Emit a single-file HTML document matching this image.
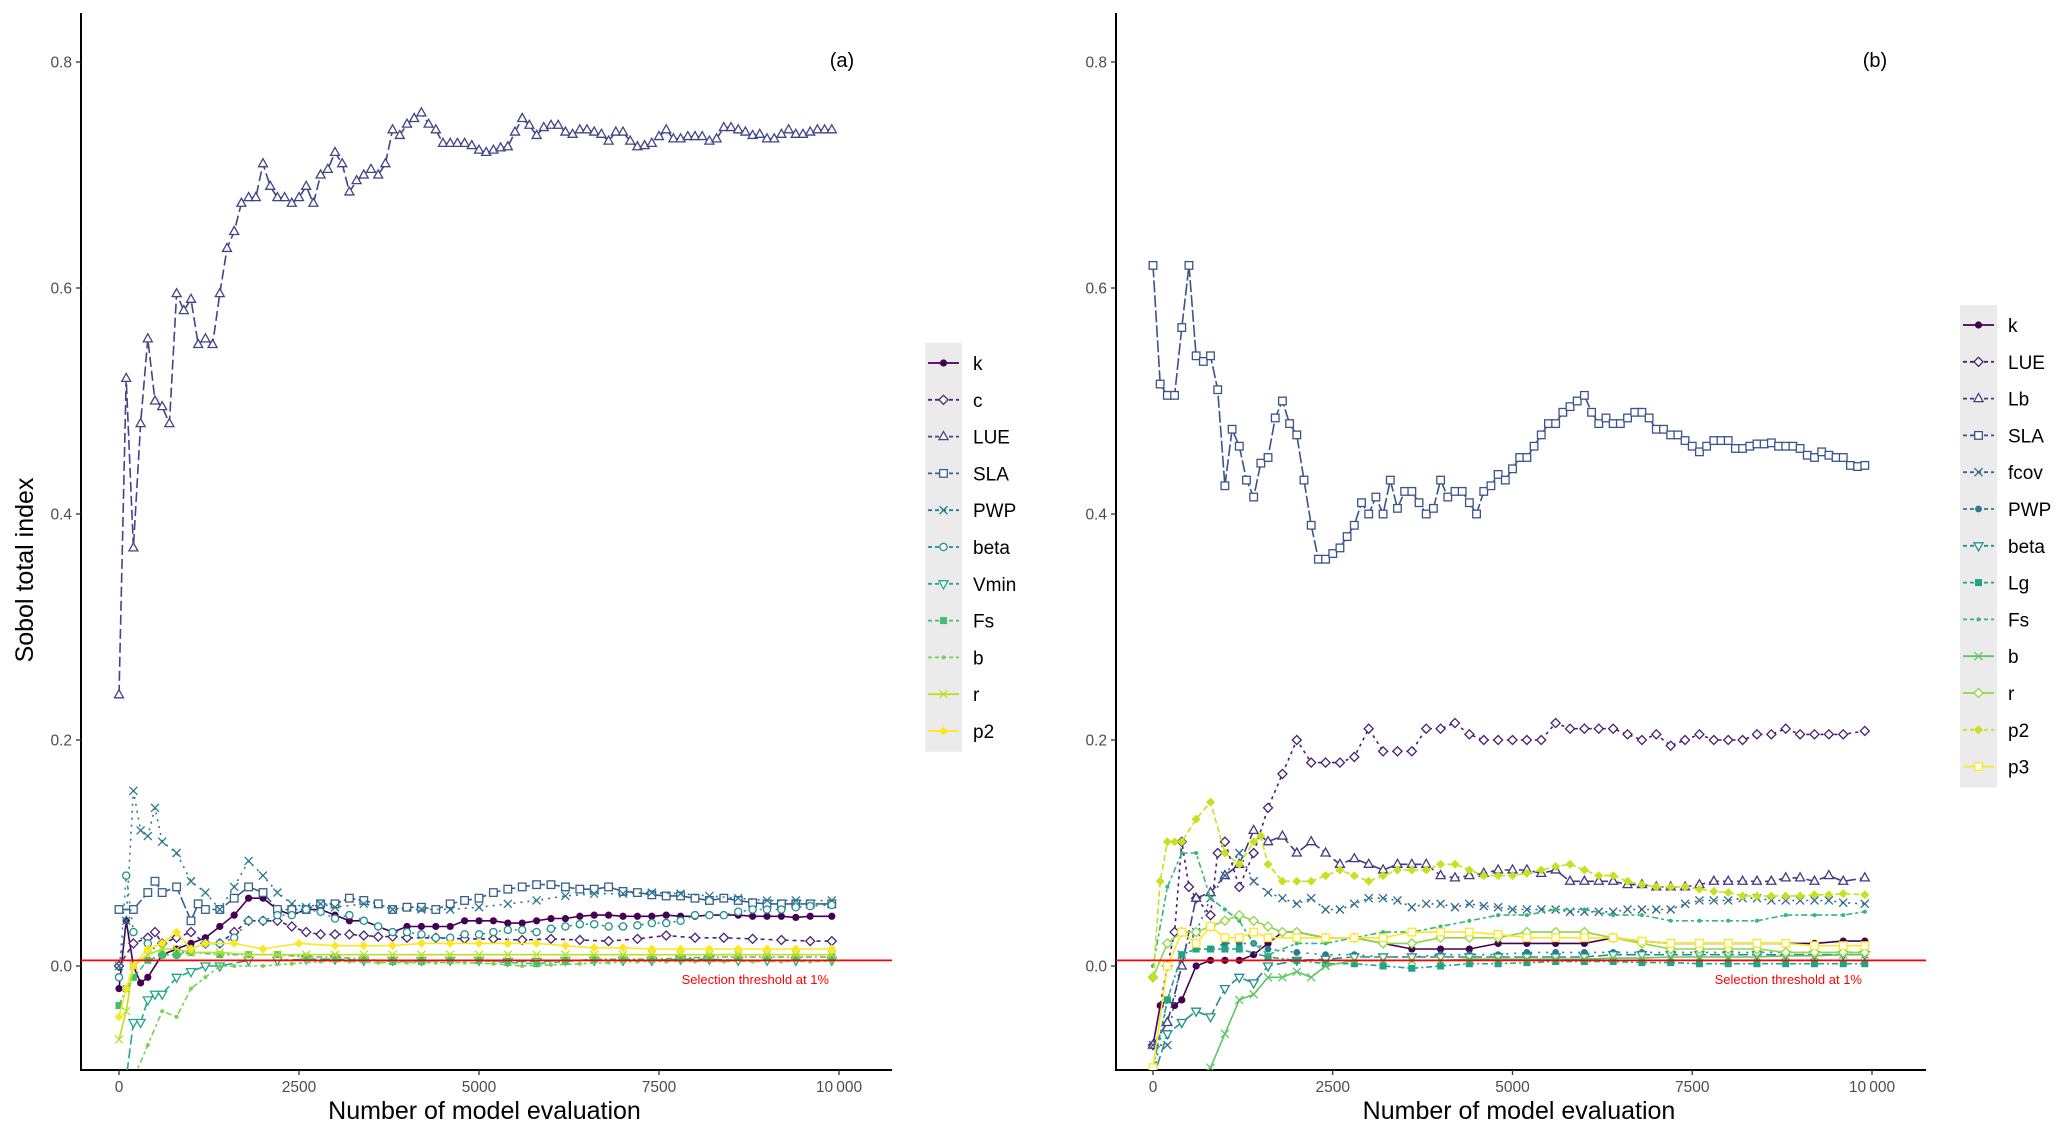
<!DOCTYPE html>
<html><head><meta charset="utf-8"><style>
html,body{margin:0;padding:0;background:#fff;width:2067px;height:1129px;overflow:hidden;}
svg{display:block;font-family:"Liberation Sans",Arial,sans-serif;}
</style></head><body>
<svg id="chart" width="2067" height="1129" viewBox="0 0 2067 1129" xmlns="http://www.w3.org/2000/svg">
<defs>
<clipPath id="clipA"><rect x="81" y="13" width="811" height="1057"/></clipPath>
<clipPath id="clipB"><rect x="1116" y="13" width="810" height="1057"/></clipPath>
</defs>
</svg>
<script>
// ---------- Data (x, Sobol total index) ----------
const xTicks=[0,2500,5000,7500,10000];
const xTickLabels=["0","2500","5000","7500","10\u2009000"];
const yTicks=[0,0.2,0.4,0.6,0.8];
const yTickLabels=["0.0","0.2","0.4","0.6","0.8"];
const threshold=0.005;

const aNames=["k","c","LUE","SLA","PWP","beta","Vmin","Fs","b","r","p2"];
const bNames=["k","LUE","Lb","SLA","fcov","PWP","beta","Lg","Fs","b","r","p2","p3"];

const a_k=[[0,-0.02],[100,0.04],[200,0.0],[300,-0.015],[400,-0.01],[600,0.01],[800,0.015],[1000,0.02],[1200,0.025],[1400,0.035],[1600,0.045],[1800,0.06],[2000,0.06],[2200,0.05],[2400,0.045],[2600,0.05],[2800,0.05],[3000,0.045],[3200,0.04],[3400,0.04],[3600,0.035],[3800,0.03],[4000,0.035],[4200,0.035],[4400,0.035],[4600,0.035],[4800,0.04],[5000,0.04],[5200,0.04],[5400,0.038],[5600,0.038],[5800,0.04],[6000,0.042],[6200,0.042],[6400,0.044],[6600,0.045],[6800,0.045],[7000,0.044],[7200,0.044],[7400,0.044],[7600,0.045],[7800,0.044],[8000,0.044],[8200,0.045],[8400,0.045],[8600,0.045],[8800,0.044],[9000,0.044],[9200,0.044],[9400,0.043],[9600,0.044],[9900,0.044]];
const a_c=[[0,0.0],[200,0.02],[400,0.025],[500,0.03],[600,0.02],[800,0.025],[1000,0.03],[1200,0.02],[1400,0.02],[1600,0.03],[1800,0.04],[2000,0.04],[2200,0.04],[2400,0.035],[2600,0.03],[2800,0.028],[3000,0.028],[3200,0.028],[3400,0.027],[3600,0.026],[3800,0.026],[4000,0.025],[4400,0.025],[4800,0.024],[5200,0.024],[5600,0.023],[6000,0.024],[6400,0.023],[6800,0.022],[7200,0.024],[7600,0.027],[8000,0.025],[8400,0.025],[8800,0.024],[9200,0.023],[9600,0.022],[9900,0.022]];
const a_LUE=[[0,0.24],[100,0.52],[200,0.37],[300,0.48],[400,0.555],[500,0.50],[600,0.495],[700,0.48],[800,0.595],[900,0.58],[1000,0.59],[1100,0.55],[1200,0.555],[1300,0.55],[1400,0.595],[1500,0.635],[1600,0.65],[1700,0.675],[1800,0.68],[1900,0.68],[2000,0.71],[2100,0.69],[2200,0.68],[2300,0.68],[2400,0.675],[2500,0.68],[2600,0.69],[2700,0.675],[2800,0.70],[2900,0.705],[3000,0.72],[3100,0.71],[3200,0.685],[3300,0.695],[3400,0.70],[3500,0.705],[3600,0.70],[3700,0.71],[3800,0.74],[3900,0.735],[4000,0.745],[4100,0.75],[4200,0.755],[4300,0.745],[4400,0.74],[4500,0.728],[4600,0.728],[4700,0.728],[4800,0.728],[4900,0.726],[5000,0.722],[5100,0.72],[5200,0.722],[5300,0.724],[5400,0.725],[5500,0.738],[5600,0.75],[5700,0.744],[5800,0.735],[5900,0.742],[6000,0.744],[6100,0.744],[6200,0.738],[6300,0.736],[6400,0.74],[6500,0.74],[6600,0.738],[6700,0.736],[6800,0.73],[6900,0.738],[7000,0.738],[7100,0.73],[7200,0.725],[7300,0.726],[7400,0.728],[7500,0.734],[7600,0.74],[7700,0.732],[7800,0.732],[7900,0.734],[8000,0.734],[8100,0.734],[8200,0.73],[8300,0.732],[8400,0.742],[8500,0.742],[8600,0.74],[8700,0.738],[8800,0.735],[8900,0.736],[9000,0.732],[9100,0.732],[9200,0.736],[9300,0.74],[9400,0.736],[9500,0.736],[9600,0.738],[9700,0.74],[9800,0.74],[9900,0.74]];
const a_SLA=[[0,0.05],[200,0.05],[400,0.065],[500,0.075],[600,0.065],[800,0.07],[1000,0.04],[1100,0.055],[1200,0.05],[1400,0.05],[1600,0.06],[1800,0.07],[2000,0.065],[2200,0.05],[2400,0.05],[2600,0.05],[2800,0.055],[3000,0.055],[3200,0.06],[3400,0.058],[3600,0.055],[3800,0.05],[4000,0.052],[4200,0.052],[4400,0.05],[4600,0.055],[4800,0.058],[5000,0.06],[5200,0.065],[5400,0.068],[5600,0.07],[5800,0.072],[6000,0.072],[6200,0.07],[6400,0.068],[6600,0.068],[6800,0.07],[7000,0.066],[7200,0.065],[7400,0.063],[7600,0.062],[7800,0.062],[8000,0.06],[8200,0.058],[8400,0.06],[8600,0.058],[8800,0.056],[9000,0.055],[9200,0.055],[9400,0.055],[9600,0.055],[9900,0.055]];
const a_PWP=[[0,0.0],[100,0.04],[200,0.155],[300,0.12],[400,0.115],[500,0.14],[600,0.11],[800,0.1],[1000,0.075],[1200,0.065],[1400,0.05],[1600,0.07],[1800,0.093],[2000,0.08],[2200,0.065],[2400,0.055],[2600,0.052],[2800,0.055],[3000,0.052],[3400,0.055],[3800,0.05],[4200,0.05],[4600,0.05],[5000,0.052],[5400,0.055],[5800,0.058],[6200,0.062],[6600,0.064],[7000,0.064],[7400,0.065],[7800,0.064],[8200,0.062],[8600,0.06],[9000,0.058],[9400,0.058],[9900,0.058]];
const a_beta=[[0,-0.01],[100,0.08],[200,0.03],[400,0.02],[600,0.01],[800,0.01],[1000,0.015],[1200,0.02],[1400,0.02],[1600,0.025],[1800,0.04],[2000,0.04],[2200,0.045],[2400,0.045],[2600,0.05],[2800,0.048],[3000,0.042],[3200,0.045],[3400,0.04],[3600,0.035],[3800,0.03],[4000,0.03],[4200,0.028],[4400,0.025],[4600,0.025],[4800,0.028],[5000,0.028],[5200,0.03],[5400,0.032],[5600,0.032],[5800,0.03],[6000,0.033],[6200,0.035],[6400,0.037],[6600,0.037],[6800,0.035],[7000,0.035],[7200,0.036],[7400,0.038],[7600,0.038],[7800,0.04],[8000,0.045],[8200,0.045],[8400,0.045],[8600,0.048],[8800,0.05],[9000,0.05],[9200,0.05],[9400,0.052],[9600,0.053],[9900,0.054]];
const a_Vmin=[[0,-0.1],[100,-0.1],[200,-0.05],[300,-0.05],[400,-0.03],[500,-0.025],[600,-0.025],[800,-0.01],[1000,-0.005],[1200,0.0],[1400,0.0],[1800,0.005],[2200,0.005],[2600,0.006],[3000,0.006],[3400,0.005],[3800,0.005],[4200,0.005],[4600,0.005],[5000,0.005],[5400,0.004],[5800,0.004],[6200,0.005],[6600,0.005],[7000,0.005],[7400,0.005],[7800,0.006],[8200,0.006],[8600,0.005],[9000,0.005],[9400,0.005],[9900,0.005]];
const a_Fs=[[0,-0.035],[100,-0.02],[200,-0.01],[400,0.005],[600,0.01],[800,0.01],[1000,0.012],[1400,0.01],[1800,0.01],[2200,0.01],[2600,0.008],[3000,0.008],[3400,0.006],[3800,0.004],[4200,0.004],[4600,0.005],[5000,0.005],[5400,0.003],[5800,0.002],[6200,0.004],[6600,0.006],[7000,0.006],[7400,0.006],[7800,0.007],[8200,0.008],[8600,0.008],[9000,0.008],[9400,0.008],[9900,0.008]];
const a_b=[[0,-0.11],[200,-0.1],[400,-0.07],[600,-0.04],[800,-0.045],[1000,-0.02],[1200,-0.01],[1400,0.0],[1600,0.0],[2000,0.0],[2400,0.002],[2800,0.004],[3200,0.004],[3600,0.003],[4000,0.003],[4400,0.003],[4800,0.003],[5200,0.002],[5600,0.0],[6000,0.001],[6400,0.002],[6800,0.003],[7200,0.004],[7600,0.004],[8000,0.004],[8400,0.004],[8800,0.004],[9200,0.004],[9600,0.004],[9900,0.004]];
const a_r=[[0,-0.065],[100,-0.04],[200,0.0],[400,0.01],[600,0.015],[800,0.015],[1000,0.012],[1400,0.012],[1800,0.01],[2200,0.01],[2600,0.01],[3000,0.01],[3400,0.01],[3800,0.01],[4200,0.01],[4600,0.01],[5000,0.01],[5400,0.01],[5800,0.01],[6200,0.01],[6600,0.01],[7000,0.01],[7400,0.01],[7800,0.01],[8200,0.01],[8600,0.01],[9000,0.01],[9400,0.01],[9900,0.01]];
const a_p2=[[0,-0.045],[100,-0.02],[200,0.0],[400,0.015],[600,0.02],[800,0.03],[1000,0.015],[1200,0.02],[1600,0.02],[2000,0.015],[2500,0.02],[3000,0.018],[3400,0.018],[3800,0.018],[4200,0.02],[4600,0.02],[5000,0.02],[5400,0.02],[5800,0.02],[6200,0.018],[6600,0.016],[7000,0.016],[7400,0.015],[7800,0.015],[8200,0.015],[8600,0.015],[9000,0.015],[9400,0.015],[9900,0.015]];

const b_k=[[0,-0.07],[100,-0.035],[200,-0.03],[300,-0.035],[400,-0.03],[600,0.0],[800,0.005],[1000,0.005],[1200,0.005],[1400,0.01],[1600,0.02],[1800,0.03],[2000,0.03],[2400,0.025],[2800,0.025],[3200,0.02],[3600,0.015],[4000,0.015],[4400,0.015],[4800,0.02],[5200,0.02],[5600,0.02],[6000,0.02],[6400,0.025],[6800,0.022],[7200,0.02],[7600,0.02],[8000,0.02],[8400,0.02],[8800,0.02],[9200,0.02],[9600,0.022],[9900,0.022]];
const b_LUE=[[0,-0.07],[200,0.0],[300,0.03],[400,0.11],[500,0.07],[600,0.06],[800,0.045],[900,0.1],[1000,0.11],[1200,0.07],[1400,0.1],[1600,0.14],[1800,0.17],[2000,0.2],[2200,0.18],[2400,0.18],[2600,0.18],[2800,0.185],[3000,0.21],[3200,0.19],[3400,0.19],[3600,0.19],[3800,0.21],[4000,0.21],[4200,0.215],[4400,0.205],[4600,0.20],[4800,0.20],[5000,0.20],[5200,0.20],[5400,0.20],[5600,0.215],[5800,0.21],[6000,0.21],[6200,0.21],[6400,0.21],[6600,0.205],[6800,0.20],[7000,0.205],[7200,0.195],[7400,0.20],[7600,0.205],[7800,0.20],[8000,0.20],[8200,0.20],[8400,0.205],[8600,0.205],[8800,0.21],[9000,0.205],[9200,0.205],[9400,0.205],[9600,0.205],[9900,0.208]];
const b_Lb=[[0,-0.07],[200,-0.05],[400,0.0],[600,0.06],[800,0.065],[1000,0.08],[1200,0.09],[1400,0.12],[1600,0.11],[1800,0.115],[2000,0.1],[2200,0.11],[2400,0.1],[2600,0.09],[2800,0.095],[3000,0.09],[3200,0.085],[3400,0.09],[3600,0.09],[3800,0.09],[4000,0.08],[4200,0.078],[4400,0.08],[4600,0.082],[4800,0.085],[5000,0.085],[5200,0.085],[5400,0.082],[5600,0.085],[5800,0.075],[6000,0.075],[6200,0.075],[6400,0.075],[6600,0.072],[6800,0.072],[7000,0.07],[7200,0.07],[7400,0.07],[7600,0.072],[7800,0.075],[8000,0.075],[8200,0.075],[8400,0.075],[8600,0.075],[8800,0.078],[9000,0.078],[9200,0.075],[9400,0.08],[9600,0.075],[9900,0.078]];
const b_SLA=[[0,0.62],[100,0.515],[200,0.505],[300,0.505],[400,0.565],[500,0.62],[600,0.54],[700,0.535],[800,0.54],[900,0.51],[1000,0.425],[1100,0.475],[1200,0.46],[1300,0.43],[1400,0.415],[1500,0.445],[1600,0.45],[1700,0.485],[1800,0.5],[1900,0.48],[2000,0.47],[2100,0.43],[2200,0.39],[2300,0.36],[2400,0.36],[2500,0.365],[2600,0.37],[2700,0.38],[2800,0.39],[2900,0.41],[3000,0.40],[3100,0.415],[3200,0.40],[3300,0.43],[3400,0.405],[3500,0.42],[3600,0.42],[3700,0.41],[3800,0.40],[3900,0.405],[4000,0.43],[4100,0.415],[4200,0.42],[4300,0.42],[4400,0.41],[4500,0.40],[4600,0.42],[4700,0.425],[4800,0.435],[4900,0.43],[5000,0.44],[5100,0.45],[5200,0.45],[5300,0.46],[5400,0.47],[5500,0.48],[5600,0.48],[5700,0.49],[5800,0.495],[5900,0.50],[6000,0.505],[6100,0.49],[6200,0.48],[6300,0.485],[6400,0.48],[6500,0.48],[6600,0.485],[6700,0.49],[6800,0.49],[6900,0.485],[7000,0.475],[7100,0.475],[7200,0.47],[7300,0.47],[7400,0.465],[7500,0.46],[7600,0.455],[7700,0.46],[7800,0.465],[7900,0.465],[8000,0.465],[8100,0.458],[8200,0.458],[8300,0.46],[8400,0.462],[8500,0.462],[8600,0.463],[8700,0.46],[8800,0.46],[8900,0.46],[9000,0.458],[9100,0.452],[9200,0.45],[9300,0.455],[9400,0.452],[9500,0.45],[9600,0.45],[9700,0.443],[9800,0.442],[9900,0.443]];
const b_fcov=[[0,-0.07],[200,-0.07],[400,0.01],[600,0.03],[800,0.06],[1000,0.08],[1200,0.1],[1400,0.075],[1600,0.065],[1800,0.06],[2000,0.055],[2200,0.06],[2400,0.05],[2600,0.05],[2800,0.055],[3000,0.06],[3200,0.06],[3400,0.058],[3600,0.052],[3800,0.055],[4000,0.055],[4200,0.052],[4400,0.055],[4600,0.053],[4800,0.052],[5000,0.05],[5200,0.05],[5400,0.05],[5600,0.05],[5800,0.048],[6000,0.048],[6200,0.048],[6400,0.048],[6600,0.05],[6800,0.05],[7000,0.05],[7200,0.05],[7400,0.055],[7600,0.058],[7800,0.058],[8000,0.058],[8200,0.06],[8400,0.06],[8600,0.058],[8800,0.058],[9000,0.058],[9200,0.058],[9400,0.058],[9600,0.056],[9900,0.055]];
const b_PWP=[[0,-0.1],[200,-0.03],[400,0.01],[600,0.015],[800,0.015],[1000,0.02],[1200,0.02],[1400,0.02],[1600,0.015],[2000,0.012],[2400,0.01],[2800,0.01],[3200,0.008],[3600,0.008],[4000,0.01],[4400,0.01],[4800,0.01],[5200,0.012],[5600,0.012],[6000,0.012],[6400,0.012],[6800,0.012],[7200,0.012],[7600,0.012],[8000,0.012],[8400,0.012],[8800,0.012],[9200,0.012],[9600,0.012],[9900,0.012]];
const b_beta=[[0,-0.1],[200,-0.06],[400,-0.05],[600,-0.04],[800,-0.045],[1000,-0.02],[1200,-0.01],[1400,-0.015],[1600,0.0],[2000,0.005],[2400,0.006],[2800,0.008],[3200,0.008],[3600,0.008],[4000,0.008],[4400,0.008],[4800,0.008],[5200,0.008],[5600,0.008],[6000,0.008],[6400,0.01],[6800,0.01],[7200,0.01],[7600,0.01],[8000,0.01],[8400,0.01],[8800,0.01],[9200,0.01],[9600,0.01],[9900,0.01]];
const b_Lg=[[0,-0.09],[200,-0.03],[400,0.01],[600,0.015],[800,0.015],[1000,0.015],[1200,0.015],[1600,0.008],[2000,0.005],[2400,0.002],[2800,0.002],[3200,0.0],[3600,-0.002],[4000,0.0],[4400,0.002],[4800,0.002],[5200,0.003],[5600,0.004],[6000,0.004],[6400,0.004],[6800,0.003],[7200,0.003],[7600,0.002],[8000,0.002],[8400,0.002],[8800,0.002],[9200,0.002],[9600,0.002],[9900,0.002]];
const b_Fs=[[0,0.0],[200,0.07],[400,0.1],[600,0.1],[800,0.06],[1000,0.05],[1200,0.04],[1400,0.02],[1600,0.01],[2000,0.02],[2400,0.02],[2800,0.025],[3200,0.03],[3600,0.03],[4000,0.035],[4400,0.04],[4800,0.045],[5200,0.045],[5600,0.05],[6000,0.05],[6400,0.045],[6800,0.045],[7200,0.04],[7600,0.04],[8000,0.04],[8400,0.04],[8800,0.045],[9200,0.045],[9600,0.045],[9900,0.048]];
const b_b=[[0,-0.2],[400,-0.15],[600,-0.1],[800,-0.09],[1000,-0.06],[1200,-0.03],[1400,-0.025],[1600,-0.01],[1800,-0.01],[2000,-0.005],[2200,-0.01],[2400,0.0],[2800,0.005],[3200,0.005],[3600,0.005],[4000,0.005],[4400,0.006],[4800,0.006],[5200,0.006],[5600,0.006],[6000,0.006],[6400,0.007],[6800,0.007],[7200,0.008],[7600,0.008],[8000,0.008],[8400,0.008],[8800,0.009],[9200,0.009],[9600,0.01],[9900,0.01]];
const b_r=[[0,-0.01],[200,0.02],[400,0.03],[600,0.03],[800,0.035],[1000,0.04],[1200,0.045],[1400,0.04],[1600,0.035],[1800,0.03],[2000,0.03],[2400,0.025],[2800,0.025],[3200,0.02],[3600,0.02],[4000,0.025],[4400,0.025],[4800,0.025],[5200,0.03],[5600,0.03],[6000,0.03],[6400,0.025],[6800,0.02],[7200,0.015],[7600,0.015],[8000,0.015],[8400,0.015],[8800,0.012],[9200,0.012],[9600,0.012],[9900,0.012]];
const b_p2=[[0,-0.01],[100,0.075],[200,0.11],[300,0.11],[400,0.11],[600,0.13],[800,0.145],[1000,0.1],[1200,0.09],[1400,0.11],[1500,0.115],[1600,0.09],[1800,0.075],[2000,0.075],[2200,0.075],[2400,0.08],[2600,0.085],[2800,0.08],[3000,0.075],[3200,0.08],[3400,0.085],[3600,0.085],[3800,0.085],[4000,0.09],[4200,0.09],[4400,0.085],[4600,0.08],[4800,0.08],[5000,0.08],[5200,0.082],[5400,0.085],[5600,0.088],[5800,0.09],[6000,0.085],[6200,0.08],[6400,0.08],[6600,0.075],[6800,0.072],[7000,0.07],[7200,0.07],[7400,0.07],[7600,0.068],[7800,0.066],[8000,0.065],[8200,0.062],[8400,0.062],[8600,0.062],[8800,0.062],[9000,0.062],[9200,0.063],[9400,0.063],[9600,0.064],[9900,0.063]];
const b_p3=[[0,-0.09],[200,0.0],[400,0.03],[600,0.02],[800,0.035],[1000,0.025],[1200,0.025],[1400,0.03],[1600,0.025],[2000,0.025],[2400,0.025],[2800,0.025],[3200,0.025],[3600,0.03],[4000,0.03],[4400,0.03],[4800,0.028],[5200,0.025],[5600,0.025],[6000,0.025],[6400,0.025],[6800,0.022],[7200,0.02],[7600,0.02],[8000,0.02],[8400,0.02],[8800,0.02],[9200,0.018],[9600,0.018],[9900,0.018]];

const aSeries=[a_k,a_c,a_LUE,a_SLA,a_PWP,a_beta,a_Vmin,a_Fs,a_b,a_r,a_p2];
const bSeries=[b_k,b_LUE,b_Lb,b_SLA,b_fcov,b_PWP,b_beta,b_Lg,b_Fs,b_b,b_r,b_p2,b_p3];

const aColors=["#440154","#482576","#414487","#35608D","#2A788E","#21908C","#22A884","#43BF71","#7AD151","#BBDF27","#FDE725"];
const bColors=["#440154","#481F70","#443A83","#3B528B","#31688E","#287C8E","#21908C","#20A486","#35B779","#5DC863","#8FD744","#C7E020","#FDE725"];
const aShapes=["dot","diamond","tri","square","x","circplus","dtri","sqfill","small","xline","diamondfill"];
const bShapes=["dot","diamond","tri","square","x","circfill","dtri","sqfill","small","x","diamond","diamondfill","square"];
const aDash=["","4,4","10,4","12,3","2,5","2,6","10,4","6,3,2,3","3,3,6,3","",""];
const bDash=["","3,4","10,4","12,3","2,5","2,6","10,4","6,3,2,3","3,3,6,3","","","6,3",""];

// ---------- Drawing ----------
const NS="http://www.w3.org/2000/svg";
const svg=document.getElementById('chart');
function mk(tag,attrs,parent){const e=document.createElementNS(NS,tag);for(const k in attrs)e.setAttribute(k,attrs[k]);(parent||svg).appendChild(e);return e;}

function marker(g,shape,x,y,col){
  let e;
  if(shape==="dot"){e=mk('circle',{cx:x,cy:y,r:3.6,fill:col},g);}
  else if(shape==="circfill"){e=mk('circle',{cx:x,cy:y,r:3.4,fill:col},g);}
  else if(shape==="small"){e=mk('circle',{cx:x,cy:y,r:2,fill:col},g);}
  else if(shape==="diamond"){e=mk('polygon',{points:`${x},${y-4.5} ${x+4.5},${y} ${x},${y+4.5} ${x-4.5},${y}`,fill:"#fff",stroke:col,'stroke-width':1.3},g);}
  else if(shape==="diamondfill"){e=mk('polygon',{points:`${x},${y-4.5} ${x+4.5},${y} ${x},${y+4.5} ${x-4.5},${y}`,fill:col},g);}
  else if(shape==="tri"){e=mk('polygon',{points:`${x},${y-5} ${x+4.5},${y+3} ${x-4.5},${y+3}`,fill:"#fff",stroke:col,'stroke-width':1.3},g);}
  else if(shape==="dtri"){e=mk('polygon',{points:`${x},${y+5} ${x+4.5},${y-3} ${x-4.5},${y-3}`,fill:"#fff",stroke:col,'stroke-width':1.3},g);}
  else if(shape==="square"){e=mk('rect',{x:x-3.8,y:y-3.8,width:7.6,height:7.6,fill:"#fff",stroke:col,'stroke-width':1.3},g);}
  else if(shape==="sqfill"){e=mk('rect',{x:x-3.5,y:y-3.5,width:7,height:7,fill:col},g);}
  else if(shape==="circplus"){e=mk('circle',{cx:x,cy:y,r:3.6,fill:"#fff",stroke:col,'stroke-width':1.3},g);}
  else {e=mk('path',{d:`M${x-4},${y-4}L${x+4},${y+4}M${x-4},${y+4}L${x+4},${y-4}`,stroke:col,'stroke-width':1.3,fill:"none"},g);}
  
  
}

function panel(cfg){
  const {left,right,x0px,x1px,top,bottom,names,series,colors,shapes,dashes,label,legX,legY,clip,id}=cfg;
  const y0px=966, ppu=1130;
  const xs=v=>x0px+(v/10000)*(x1px-x0px);
  const ys=v=>y0px-v*ppu;
  const g=mk('g',{});
  
  
  const ax=mk('path',{d:`M${left},${top}V${bottom}H${right}`,stroke:"#000",'stroke-width':2,fill:"none"},g);
  
  
  yTicks.forEach((t,i)=>{
    mk('line',{x1:left-5,x2:left,y1:ys(t),y2:ys(t),stroke:"#333",'stroke-width':1.3},g);
    const tx=mk('text',{x:left-9,y:ys(t)+5.5,'text-anchor':'end','font-size':15.5,fill:"#4d4d4d"},g);
    tx.textContent=yTickLabels[i];
    
    
  });
  xTicks.forEach((t,i)=>{
    mk('line',{x1:xs(t),x2:xs(t),y1:bottom,y2:bottom+5,stroke:"#333",'stroke-width':1.3},g);
    const tx=mk('text',{x:xs(t),y:bottom+22,'text-anchor':'middle','font-size':15.5,fill:"#4d4d4d"},g);
    tx.textContent=xTickLabels[i];
    
    
  });
  const xt=mk('text',{x:(left+right)/2-2,y:1119,'text-anchor':'middle','font-size':25},g);
  xt.textContent="Number of model evaluation";
  
  
  const pl=mk('text',{x:x1px+3,y:67,'text-anchor':'middle','font-size':20},g);
  pl.textContent=label;
  
  
  const sg=mk('g',{'clip-path':`url(#${clip})`},g);
  series.forEach((s,i)=>{
    const sgi=mk('g',{},sg);
    
    
    const d=s.map((p,j)=>(j?'L':'M')+xs(p[0]).toFixed(1)+','+ys(p[1]).toFixed(1)).join('');
    const pa=mk('path',{d:d,fill:"none",stroke:colors[i],'stroke-width':1.6,'stroke-dasharray':dashes[i]||'none'},sgi);
    
    
    s.forEach(p=>marker(sgi,shapes[i],xs(p[0]),ys(p[1]),colors[i]));
  });
  const th=mk('line',{x1:left,x2:right,y1:ys(threshold),y2:ys(threshold),stroke:"#ff0000",'stroke-width':1.8},g);
  
  
  const tt=mk('text',{x:x1px-10,y:984,'text-anchor':'end','font-size':13,fill:"#ff0000"},g);
  tt.textContent="Selection threshold at 1%";
  
  
  const lg=mk('g',{},g);
  
  
  const step=36.8;
  mk('rect',{x:legX,y:legY,width:37,height:step*names.length+4,fill:"#ebebeb"},lg);
  names.forEach((n,i)=>{
    const cy=legY+20+i*step;
    const eg=mk('g',{},lg);
    
    
    mk('line',{x1:legX+3,x2:legX+34,y1:cy,y2:cy,stroke:colors[i],'stroke-width':1.8,'stroke-dasharray':dashes[i]?'4,3':'none'},eg);
    marker(eg,shapes[i],legX+18.5,cy,colors[i]);
    const t=mk('text',{x:legX+48,y:cy+7,'font-size':19},eg);
    t.textContent=n;
  });
}

panel({id:'a',left:81,right:892,x0px:119,x1px:839,top:13,bottom:1070,names:aNames,series:aSeries,colors:aColors,shapes:aShapes,dashes:aDash,label:"(a)",legX:925,legY:343,clip:'clipA'});
panel({id:'b',left:1116,right:1926,x0px:1153,x1px:1872,top:13,bottom:1070,names:bNames,series:bSeries,colors:bColors,shapes:bShapes,dashes:bDash,label:"(b)",legX:1960,legY:305,clip:'clipB'});

const yt=mk('text',{x:33,y:570,'text-anchor':'middle','font-size':25,transform:'rotate(-90 33 570)'});
yt.textContent="Sobol total index";


</script>
</body></html>
